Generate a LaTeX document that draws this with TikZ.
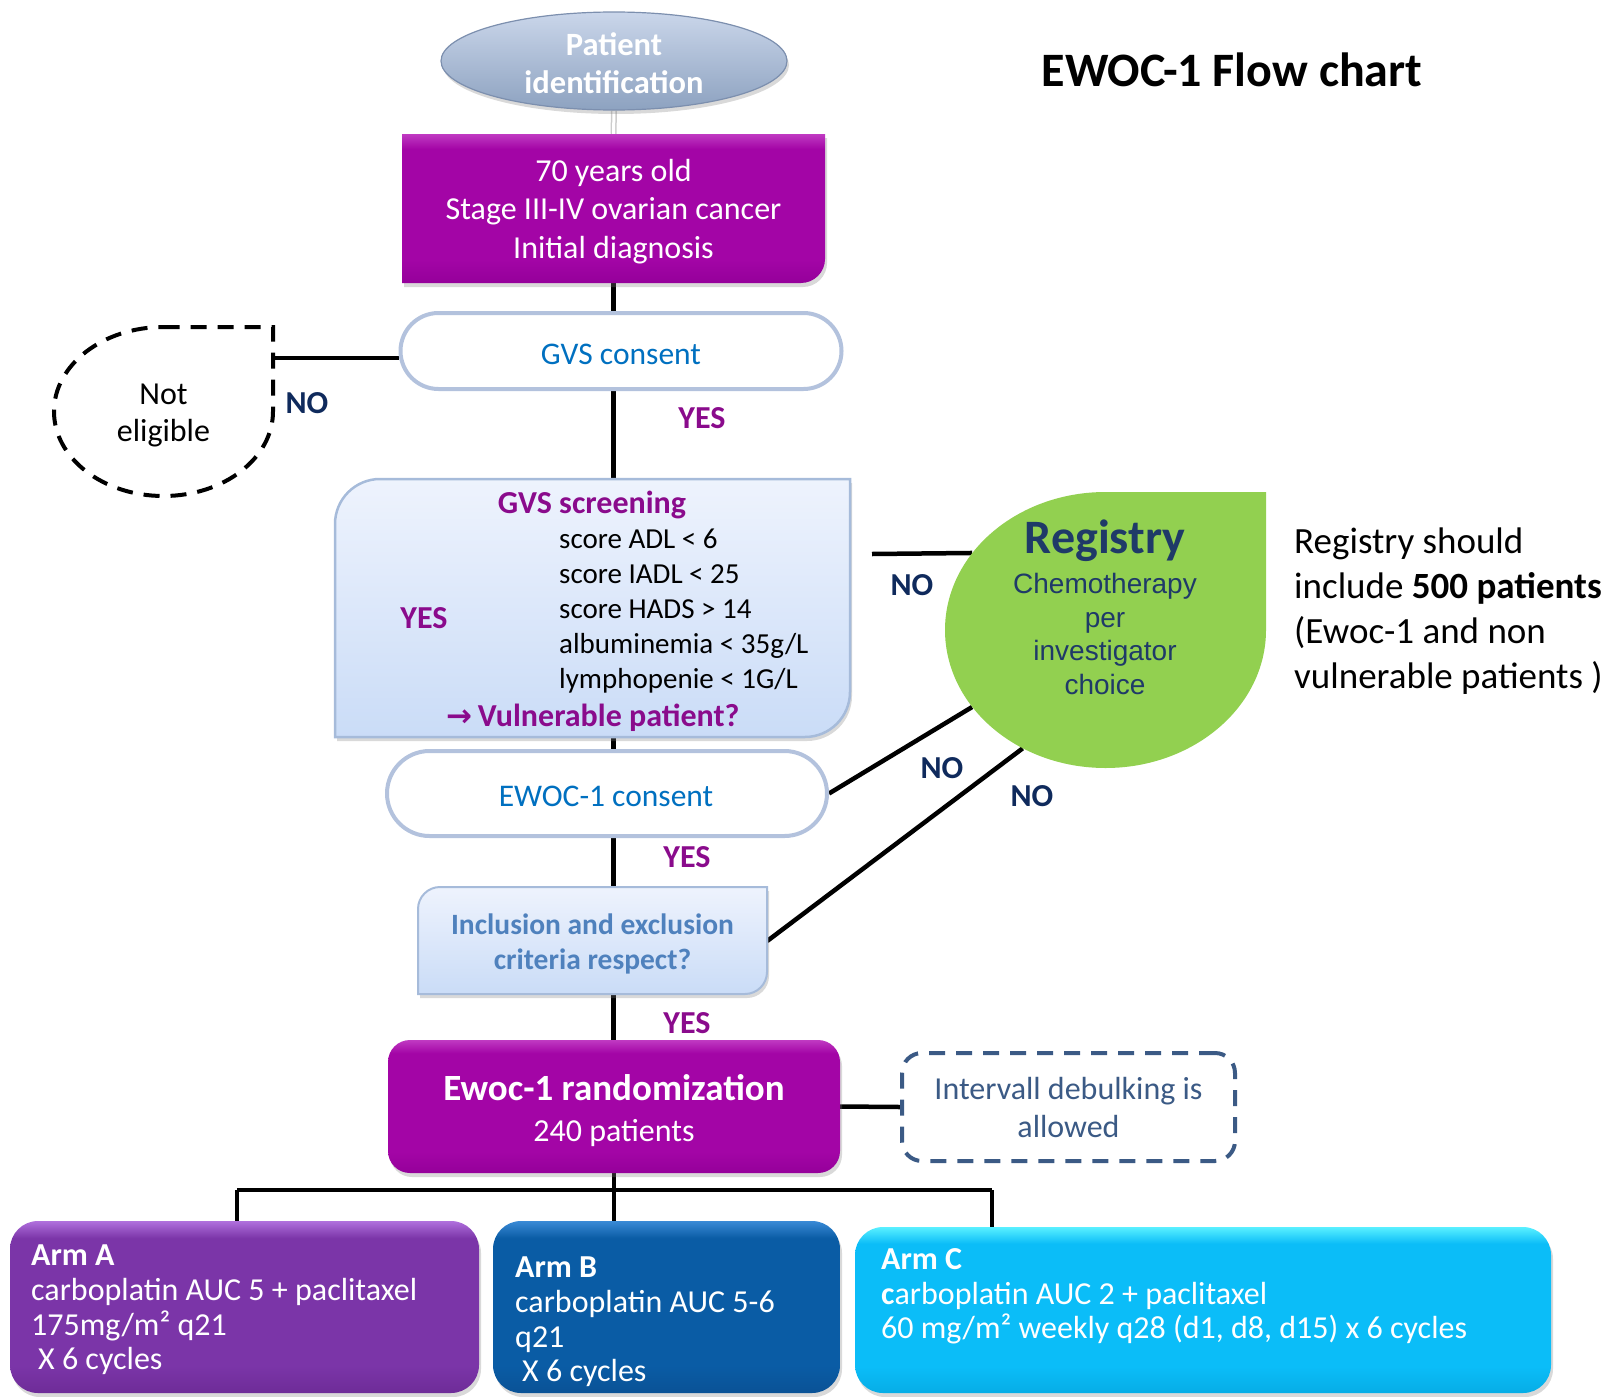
\documentclass[tikz,border=0pt]{standalone}
\usepackage{fontspec}
\setmainfont{Carlito}
\newfontfamily\arialf{Liberation Sans}
\newfontfamily\arrowf{DejaVu Sans}
\usetikzlibrary{shapes.misc,shapes.geometric,shadows}
\pgfdeclarelayer{bg}
\pgfsetlayers{bg,main}
\definecolor{purpD}{HTML}{95009A}
\definecolor{purp}{HTML}{A305A6}
\definecolor{purpT}{HTML}{C03AC2}
\definecolor{ellT}{HTML}{CAD6EA}
\definecolor{ellB}{HTML}{8DA2C0}
\definecolor{ellD}{HTML}{7C8FAE}
\definecolor{consB}{HTML}{B3C2DD}
\definecolor{consT}{HTML}{0070C0}
\definecolor{yescol}{HTML}{8A0B8C}
\definecolor{nocol}{HTML}{0F2A5C}
\definecolor{scrT}{HTML}{EEF3FD}
\definecolor{scrB}{HTML}{CADCF7}
\definecolor{scrD}{HTML}{A6BBDA}
\definecolor{regG}{HTML}{92D050}
\definecolor{regT}{HTML}{1F3A68}
\definecolor{inclT}{HTML}{4F81BD}
\definecolor{intvC}{HTML}{3B5A85}
\definecolor{armAD}{HTML}{6E2C98}
\definecolor{armA}{HTML}{7B35A8}
\definecolor{armAT}{HTML}{B070DD}
\definecolor{armBD}{HTML}{0A5296}
\definecolor{armB}{HTML}{0A5CA5}
\definecolor{armBT}{HTML}{3A8AD6}
\definecolor{armCD}{HTML}{06ADE6}
\definecolor{armC}{HTML}{0BBDF8}
\definecolor{armCT}{HTML}{5AF0FF}
\pgfdeclareverticalshading{shPurp}{100bp}{color(0bp)=(purpD); color(25bp)=(purpD); color(33bp)=(purp); color(70bp)=(purp); color(75bp)=(purpT); color(100bp)=(purpT)}
\pgfdeclareverticalshading{shArmA}{100bp}{color(0bp)=(armAD); color(25bp)=(armAD); color(33bp)=(armA); color(70bp)=(armA); color(75bp)=(armAT); color(100bp)=(armAT)}
\pgfdeclareverticalshading{shArmB}{100bp}{color(0bp)=(armBD); color(25bp)=(armBD); color(33bp)=(armB); color(70bp)=(armB); color(75bp)=(armBT); color(100bp)=(armBT)}
\pgfdeclareverticalshading{shArmC}{100bp}{color(0bp)=(armCD); color(25bp)=(armCD); color(33bp)=(armC); color(70bp)=(armC); color(75bp)=(armCT); color(100bp)=(armCT)}
\begin{document}
\begin{tikzpicture}[x=1pt,y=-1pt,
  conn/.style={line width=4.5pt, black},
  lblyes/.style={text=yescol, font=\fontsize{32}{34}\selectfont\bfseries, inner sep=0pt},
  lblno/.style={text=nocol, font=\fontsize{32}{34}\selectfont\bfseries, inner sep=0pt},
  shd/.style={drop shadow={shadow xshift=2pt, shadow yshift=-4pt, opacity=0.3, fill=black!50}},
  anchorbox/.style={rectangle, inner sep=0pt, align=center},
  tx/.style={inner sep=0pt, yshift=-3pt},
  consent/.style={rounded rectangle, inner sep=0pt, draw=consB, line width=4pt, fill=white},
  consenttext/.style={tx, text=consT, font=\fontsize{31.5}{36}\selectfont},
  armtext/.style={tx, anchor=west, align=left, text=white, font=\fontsize{32}{34.7}\selectfont},
]
\useasboundingbox (0,0) rectangle (1614,1397);

% Patient identification
\node[ellipse, minimum width=346pt, minimum height=98pt, inner sep=0pt, top color=ellT, bottom color=ellB, draw=ellD, line width=1.2pt, shd] (pid) at (614,61) {};
\node[tx, yshift=1pt, text=white, font=\fontsize{32.5}{38}\selectfont\bfseries, align=center] (pidT) at (pid) {Patient\\identification};

% title
\node[font=\fontsize{48}{52}\selectfont\bfseries, inner sep=0pt] (title) at (1232,70) {EWOC-1 Flow chart};

% criteria box
\path[shd, shade, shading=shPurp] (402,134) -- (825,134) -- (825,259) .. controls (825,272.2) and (814.2,283) .. (801,283) -- (402,283) -- cycle;
\node[anchorbox, minimum width=423pt, minimum height=149pt] (crit) at (613.5,208.5) {};
\node[tx, align=center, text=white, font=\fontsize{32}{38.5}\selectfont] (critT) at (crit) {70 years old\\Stage III-IV ovarian cancer\\Initial diagnosis};

% GVS consent
\node[consent, minimum width=441pt, minimum height=76pt] (gvs) at (621,351) {};
\node[consenttext] (gvsT) at (gvs) {GVS consent};

% Not eligible
\draw[line width=4pt, dash pattern=on 16pt off 11pt] (163.5,327) -- (273,327) -- (273,411.5) .. controls (273,458.2) and (224,496) .. (163.5,496) .. controls (103,496) and (54,458.2) .. (54,411.5) .. controls (54,364.8) and (103,327) .. (163.5,327) -- cycle;
\node[anchorbox, minimum width=219pt, minimum height=169pt] (notel) at (163.5,411.5) {};
\node[tx, yshift=-1pt, align=center, font=\fontsize{32}{37}\selectfont] (notelT) at (notel) {Not\\eligible};

% GVS screening
\path[shd, draw=scrD, line width=2.5pt, top color=scrT, bottom color=scrB] (380,479) -- (850,479) -- (850,692) .. controls (850,716.8) and (829.8,737) .. (805,737) -- (335,737) -- (335,524) .. controls (335,499.2) and (355.2,479) .. (380,479) -- cycle;
\node[anchorbox, minimum width=515pt, minimum height=258pt] (scr) at (592.5,608) {};
\node[tx, text=yescol, font=\fontsize{32}{35}\selectfont\bfseries] (scrTitle) at (592,502) {GVS screening};
\node[tx, anchor=west, align=left, font=\fontsize{29}{34.8}\selectfont] (scrList) at (559,608) {score ADL < 6\\score IADL < 25\\score HADS > 14\\albuminemia < 35g/L\\lymphopenie < 1G/L};
\node[lblyes] (yes2) at (424,618) {YES};
\node[tx, text=yescol, font=\fontsize{32}{35}\selectfont\bfseries] (scrVul) at (593,715) {{\arrowf\fontsize{31}{35}\selectfont →}\,Vulnerable patient?};

% Registry
\path[fill=regG] (1105.5,492) -- (1266,492) -- (1266,630) .. controls (1266,706.2) and (1194.1,768) .. (1105.5,768) .. controls (1016.9,768) and (945,706.2) .. (945,630) .. controls (945,553.8) and (1016.9,492) .. (1105.5,492) -- cycle;
\node[ellipse, minimum width=321pt, minimum height=276pt, inner sep=0pt] (reg) at (1105.5,630) {};
\node[tx, text=regT, font=\fontsize{48}{52}\selectfont\bfseries] (regTitle) at (1105,538) {Registry};
\node[inner sep=0pt, text=regT, align=center, font=\arialf\fontsize{28}{33.5}\selectfont] (regSub) at (1105,634) {Chemotherapy\\per\\investigator\\choice};

\node[tx, anchor=west, align=left, font=\fontsize{37}{45}\selectfont] (regNote) at (1294,608.5) {Registry should\\include \textbf{500 patients}\\(Ewoc-1 and non\\vulnerable patients )};

% EWOC-1 consent
\node[consent, minimum width=440pt, minimum height=85pt] (ewoc) at (607,793.5) {};
\node[consenttext] (ewocT) at ([xshift=-1pt]ewoc) {EWOC-1 consent};

% Inclusion
\path[shd, draw=scrD, line width=2pt, top color=scrT, bottom color=scrB] (440,887) -- (767,887) -- (767,972) .. controls (767,984.1) and (757.1,994) .. (745,994) -- (418,994) -- (418,909) .. controls (418,896.9) and (427.9,887) .. (440,887) -- cycle;
\node[anchorbox, minimum width=349pt, minimum height=107pt] (incl) at (592.5,941) {};
\node[tx, align=center, text=inclT, font=\fontsize{29.5}{35}\selectfont\bfseries] (inclT) at (incl) {Inclusion and exclusion\\criteria respect?};

% Randomization
\node[rounded corners=22pt, minimum width=452pt, minimum height=133pt, inner sep=0pt, shade, shading=shPurp, shd] (rand) at (614,1106.5) {};
\node[tx, yshift=-1pt, text=white, align=center, font=\fontsize{32}{41}\selectfont] (randT) at (rand) {{\fontsize{37}{41}\selectfont\bfseries Ewoc-1 randomization}\\240 patients};

% Intervall
\node[rounded corners=20pt, minimum width=333pt, minimum height=108pt, inner sep=0pt, draw=intvC, line width=4pt, dash pattern=on 16pt off 11pt, text=intvC, align=center, font=\fontsize{32}{38}\selectfont] (intv) at (1068.5,1107) {Intervall debulking is\\allowed};

% Arms
\node[rounded corners=28pt, minimum width=469pt, minimum height=172pt, inner sep=0pt, shade, shading=shArmA, shd] (armA) at (244.5,1307) {};
\node[armtext] (armAt) at (31,1307) {\textbf{Arm A}\\carboplatin AUC 5 + paclitaxel\\175mg/m² q21\\\hspace*{7pt}X 6 cycles};
\node[rounded corners=28pt, minimum width=347pt, minimum height=172pt, inner sep=0pt, shade, shading=shArmB, shd] (armB) at (666.5,1307) {};
\node[armtext] (armBt) at (515,1319) {\textbf{Arm B}\\carboplatin AUC 5-6\\q21\\\hspace*{7pt}X 6 cycles};
\node[rounded corners=28pt, minimum width=696pt, minimum height=166pt, inner sep=0pt, shade, shading=shArmC, shd] (armC) at (1203,1310) {};
\node[armtext] (armCt) at (881,1293.5) {\textbf{Arm C}\\\textbf{c}arboplatin AUC 2 + paclitaxel\\60 mg/m² weekly q28 (d1, d8, d15) x 6 cycles};

% labels
\node[lblno] (no1) at (307,403) {NO};
\node[lblyes] (yes1) at (702,418) {YES};
\node[lblno] (no2) at (912,585) {NO};
\node[lblno] (no3) at (942,768) {NO};
\node[lblno] (no4) at (1032,796) {NO};
\node[lblyes] (yes3) at (687,857) {YES};
\node[lblyes] (yes4) at (687,1023) {YES};

\coordinate (noA) at (872,554);
\coordinate (barL) at (237,1190);
\coordinate (barR) at (992,1190);

\begin{pgfonlayer}{bg}
\draw[line width=6pt, black!20] (pid.south) -- (crit.north);
\draw[line width=3pt, white] (pid.south) -- (crit.north);
\draw[conn] (crit.south) -- (crit.south |- rand.north);
\draw[conn] ([yshift=-7pt]gvs.west) -- ([yshift=-7pt]gvs.west -| notel.east);
\draw[conn] (noA) -- (reg.150);
\draw[conn] (ewoc.east) -- (reg.210);
\draw[conn] (incl.east) -- (reg.235);
\draw[conn] (rand.east) -- (intv.west);
\draw[conn] (rand.south) -- (rand.south |- armB.north);
\draw[conn] (barL) -- (barR);
\draw[conn] (barL) -- (barL |- armA.north);
\draw[conn] (barR) -- (barR |- armC.north);
\end{pgfonlayer}
\end{tikzpicture}
\end{document}
